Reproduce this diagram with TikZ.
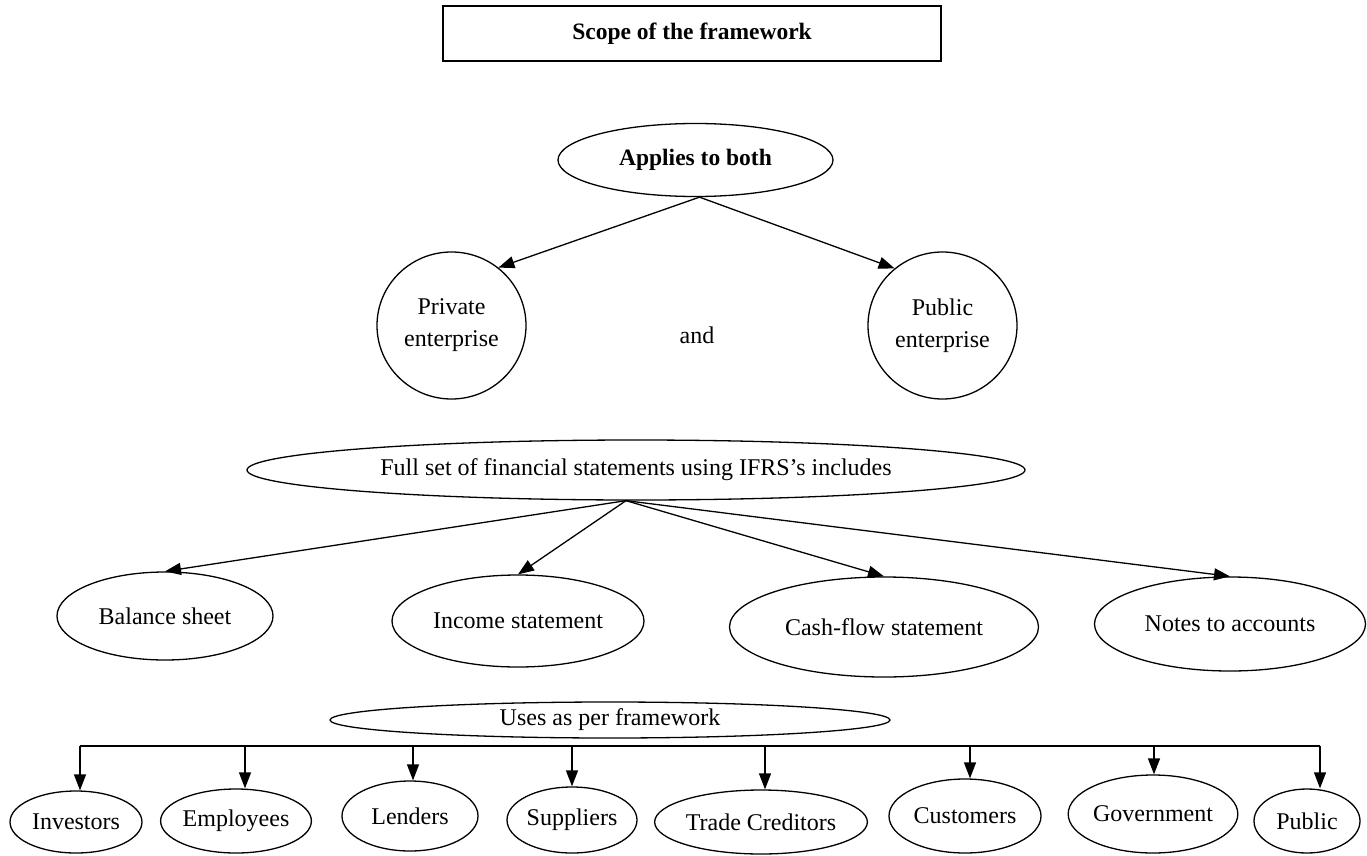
\documentclass[tikz,border=0pt]{standalone}
\usepackage{fontspec}
\setmainfont{Liberation Serif}
\usetikzlibrary{shapes.geometric,arrows.meta}

\begin{document}
\begin{tikzpicture}[x=1pt, y=-1pt, line width=1.3pt,
  >={Triangle[length=16pt,width=12pt]},
  font=\fontsize{24}{32}\selectfont,
  oval/.style={ellipse, draw=black, inner sep=0pt, align=center}]
  \useasboundingbox (0,0) rectangle (1367,856);

  % scope
  \node[draw=black, minimum width=498pt, minimum height=55pt, font=\fontsize{23.5}{32}\selectfont\bfseries](scope) at (692,33.5){Scope of the framework};
  \node[oval, minimum width=275pt, minimum height=73pt, font=\fontsize{23.5}{32}\selectfont\bfseries](both) at (695.5,160){Applies to both};
  \node[oval, minimum width=149pt, minimum height=147pt](private) at (451.5,325.5){Private\\enterprise};
  \node[oval, minimum width=149pt, minimum height=147pt](public) at (942.5,325.5){Public\\enterprise};
  \node(and) at (697,335){and};

  % statements
  \node[oval, minimum width=778pt, minimum height=60pt](full) at (636,470){Full set of financial statements using IFRS’s includes};
  \node[oval, minimum width=216pt, minimum height=88pt](balance) at (165,616){Balance sheet};
  \node[oval, minimum width=252pt, minimum height=92pt](income) at (518,621){Income statement};
  \node[oval, minimum width=309pt, minimum height=100pt](cashflow) at (884,627){Cash-flow statement};
  \node[oval, minimum width=271pt, minimum height=94pt](notes) at (1230,624){Notes to accounts};

  % users
  \node[oval, minimum width=560pt, minimum height=36pt](uses) at (610,720){Uses as per framework};
  \node[oval, minimum width=132pt, minimum height=62pt](investors) at (76,822){Investors};
  \node[oval, minimum width=148pt, minimum height=64pt](employees) at (236,821){Employees};
  \node[oval, minimum width=136pt, minimum height=70pt](lenders) at (410,816){Lenders};
  \node[oval, minimum width=130pt, minimum height=66pt](suppliers) at (572,820){Suppliers};
  \node[oval, minimum width=210pt, minimum height=64pt](creditors) at (761,822){Trade Creditors};
  \node[oval, minimum width=152pt, minimum height=74pt](customers) at (965,816){Customers};
  \node[oval, minimum width=158pt, minimum height=78pt](government) at (1153,814){Government};
  \node[oval, minimum width=106pt, minimum height=64pt](publicuser) at (1307,821){Public};

  \coordinate (bus1) at (80,746);
  \coordinate (bus2) at (245,746);
  \coordinate (bus3) at (413,746);
  \coordinate (bus4) at (572,746);
  \coordinate (bus5) at (765,746);
  \coordinate (bus6) at (970,746);
  \coordinate (bus7) at (1154,746);
  \coordinate (bus8) at (1320,746);
  \draw (bus1) -- (bus8);

  \path[->]
  ([xshift=4pt]both.south) edge (private.51)
  ([xshift=4pt]both.south) edge (public.130)
  ([xshift=-10pt]full.south) edge (balance.north)
  ([xshift=-10pt]full.south) edge (income.north)
  ([xshift=-10pt]full.south) edge (cashflow.north)
  ([xshift=-10pt]full.south) edge (notes.north)
  (bus1) edge (bus1 |- investors.north)
  (bus2) edge (bus2 |- employees.north)
  (bus3) edge (bus3 |- lenders.north)
  (bus4) edge (bus4 |- suppliers.north)
  (bus5) edge (bus5 |- creditors.north)
  (bus6) edge (bus6 |- customers.north)
  (bus7) edge (bus7 |- government.north)
  (bus8) edge (bus8 |- publicuser.north);
\end{tikzpicture}
\end{document}
